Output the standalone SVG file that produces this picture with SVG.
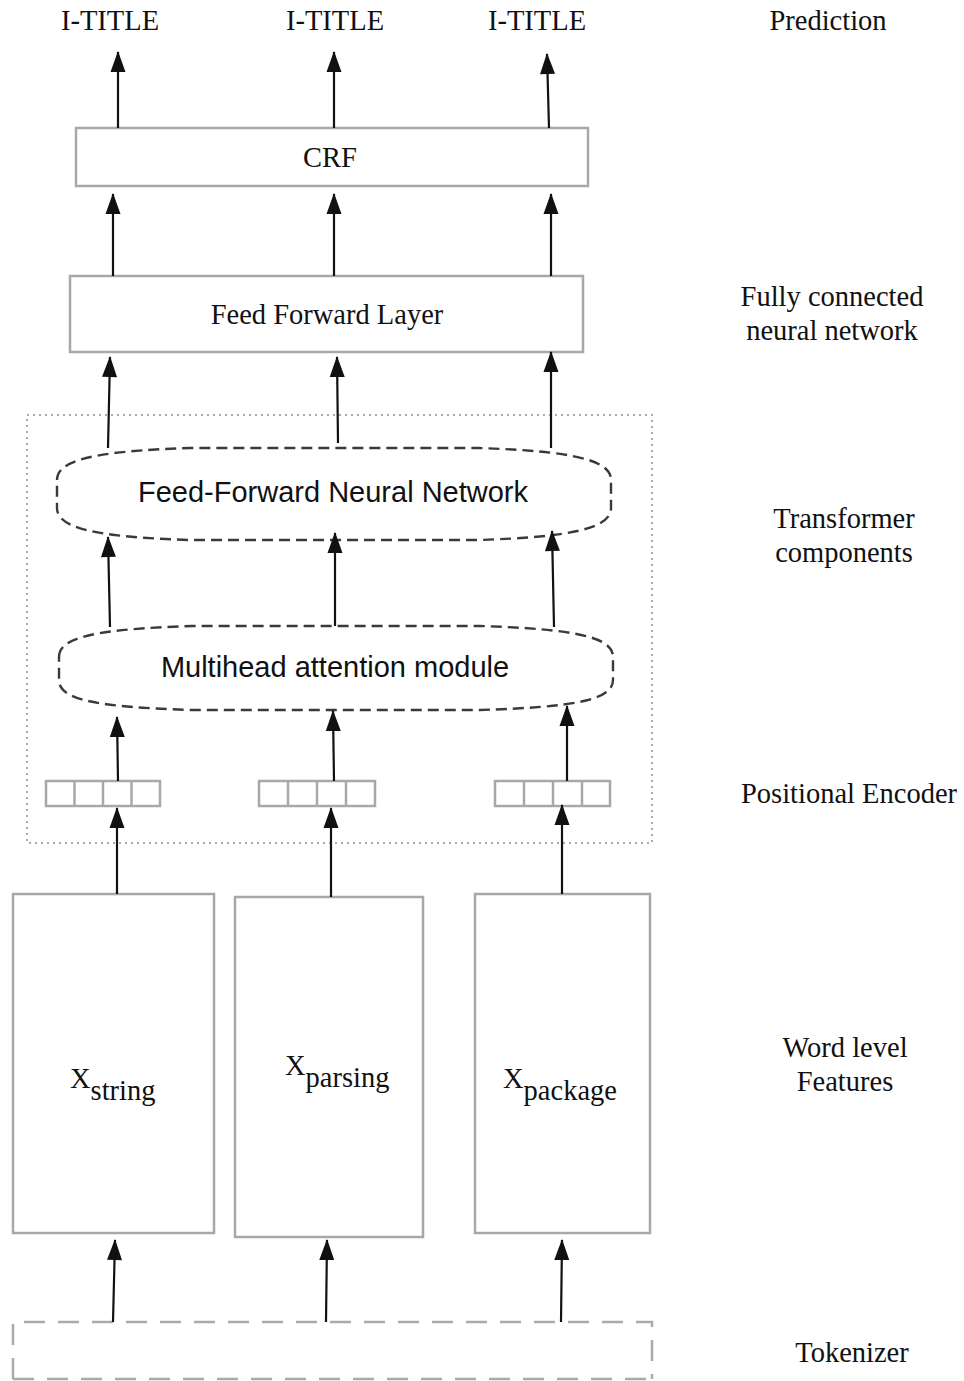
<svg xmlns="http://www.w3.org/2000/svg" width="964" height="1381" viewBox="0 0 964 1381">
  <defs>
    <!-- filled arrowhead placed at the start of each connector (the target end) -->
    <marker id="head" markerUnits="userSpaceOnUse" markerWidth="22" markerHeight="16" viewBox="0 0 22 16" refX="1" refY="8" orient="auto">
      <path d="M0,8 L21,0.5 L21,15.5 Z" fill="#111"/>
    </marker>
  </defs>
  <style>
    .box { fill: #fff; stroke: #a8a8a8; stroke-width: 2.5; }
    .cell { fill: #fff; stroke: #a8a8a8; stroke-width: 2.5; }
    .dashed { fill: #fff; stroke: #3a3a3a; stroke-width: 2.4; stroke-dasharray: 11 6; }
    .dotted { fill: none; stroke: #aaa; stroke-width: 2; stroke-dasharray: 2 4; }
    .tok { fill: none; stroke: #aaa; stroke-width: 2.5; stroke-dasharray: 21 13; }
    .serif { font-family: "Liberation Serif", "Times New Roman", serif; font-size: 28.5px; fill: #111; }
    .sans { font-family: "Liberation Sans", Arial, sans-serif; font-size: 29px; fill: #111; }
    .mid { text-anchor: middle; }
    .edge { stroke: #111; stroke-width: 2.2; fill: none; marker-start: url(#head); }
  </style>

  <!-- transformer container -->
  <rect id="transformer-frame" class="dotted" x="27" y="415" width="625" height="428"/>

  <!-- layer labels on the right -->
  <g id="labels">
    <text class="serif mid" x="828" y="30">Prediction</text>
    <text class="serif mid" x="832" y="306">Fully connected</text>
    <text class="serif mid" x="832" y="340">neural network</text>
    <text class="serif mid" x="844" y="528">Transformer</text>
    <text class="serif mid" x="844" y="562">components</text>
    <text class="serif mid" x="849" y="803">Positional Encoder</text>
    <text class="serif mid" x="845" y="1057">Word level</text>
    <text class="serif mid" x="845" y="1091">Features</text>
    <text class="serif mid" x="852" y="1362">Tokenizer</text>
  </g>

  <g id="predictions">
    <text class="serif mid" x="110" y="30">I-TITLE</text>
    <text class="serif mid" x="335" y="30">I-TITLE</text>
    <text class="serif mid" x="537" y="30">I-TITLE</text>
  </g>

  <g id="crf">
    <rect class="box" x="76" y="128" width="512" height="58"/>
    <text class="serif mid" x="330" y="167">CRF</text>
  </g>

  <g id="feed-forward-layer">
    <rect class="box" x="70" y="276" width="513" height="76"/>
    <text class="serif mid" x="327" y="324">Feed Forward Layer</text>
  </g>

  <g id="ffnn">
    <path class="dashed" d="M57,480 C57,460 95,451 190,448 L478,448 C573,451 611,460 611,480 L611,508 C611,528 573,537 478,540 L190,540 C95,537 57,528 57,508 Z"/>
    <text class="sans mid" x="333" y="502">Feed-Forward Neural Network</text>
  </g>

  <g id="attention">
    <path class="dashed" d="M59,657 C59,637 97,629 192,626 L480,626 C575,629 613,637 613,657 L613,680 C613,700 575,707 480,710 L192,710 C97,707 59,700 59,680 Z"/>
    <text class="sans mid" x="335" y="677">Multihead attention module</text>
  </g>

  <g id="pos-enc-1">
    <rect class="cell" x="46" y="781" width="114" height="25"/>
    <line class="cell" x1="74.5" y1="781" x2="74.5" y2="806"/>
    <line class="cell" x1="103" y1="781" x2="103" y2="806"/>
    <line class="cell" x1="131.5" y1="781" x2="131.5" y2="806"/>
  </g>
  <g id="pos-enc-2">
    <rect class="cell" x="259" y="781" width="116" height="25"/>
    <line class="cell" x1="288" y1="781" x2="288" y2="806"/>
    <line class="cell" x1="317" y1="781" x2="317" y2="806"/>
    <line class="cell" x1="346" y1="781" x2="346" y2="806"/>
  </g>
  <g id="pos-enc-3">
    <rect class="cell" x="495" y="781" width="115" height="25"/>
    <line class="cell" x1="524" y1="781" x2="524" y2="806"/>
    <line class="cell" x1="553" y1="781" x2="553" y2="806"/>
    <line class="cell" x1="582" y1="781" x2="582" y2="806"/>
  </g>

  <g id="x-string">
    <rect class="box" x="13" y="894" width="201" height="339"/>
    <text class="serif" x="70" y="1088">X<tspan dy="12">string</tspan></text>
  </g>
  <g id="x-parsing">
    <rect class="box" x="235" y="897" width="188" height="340"/>
    <text class="serif" x="285" y="1075">X<tspan dy="12">parsing</tspan></text>
  </g>
  <g id="x-package">
    <rect class="box" x="475" y="894" width="175" height="339"/>
    <text class="serif" x="503" y="1088">X<tspan dy="12">package</tspan></text>
  </g>

  <g id="tokenizer">
    <path class="tok" d="M13,1379 L13,1322 L652,1322 L652,1379 M13,1379 L652,1379"/>
  </g>

  <!-- connectors: each line runs from its target (arrowhead) down to its source -->
  <g id="connectors">
    <path class="edge" d="M118,52 L118,128"/>
    <path class="edge" d="M334,52 L334,128"/>
    <path class="edge" d="M547,54 L549,128"/>

    <path class="edge" d="M113,194 L113,276"/>
    <path class="edge" d="M334,194 L334,276"/>
    <path class="edge" d="M551,194 L551,276"/>

    <path class="edge" d="M110,357 L108,448"/>
    <path class="edge" d="M337,357 L338,443"/>
    <path class="edge" d="M551,352 L551,448"/>

    <path class="edge" d="M108,537 L110,627"/>
    <path class="edge" d="M335,533 L335,626"/>
    <path class="edge" d="M552,531 L554,627"/>

    <path class="edge" d="M117,717 L118,781"/>
    <path class="edge" d="M333,711 L334,781"/>
    <path class="edge" d="M567,706 L567,781"/>

    <path class="edge" d="M117,808 L117,894"/>
    <path class="edge" d="M331,808 L331,897"/>
    <path class="edge" d="M562,805 L562,894"/>

    <path class="edge" d="M115,1240 L113,1322"/>
    <path class="edge" d="M327,1240 L326,1322"/>
    <path class="edge" d="M562,1240 L561,1322"/>
  </g>
</svg>
